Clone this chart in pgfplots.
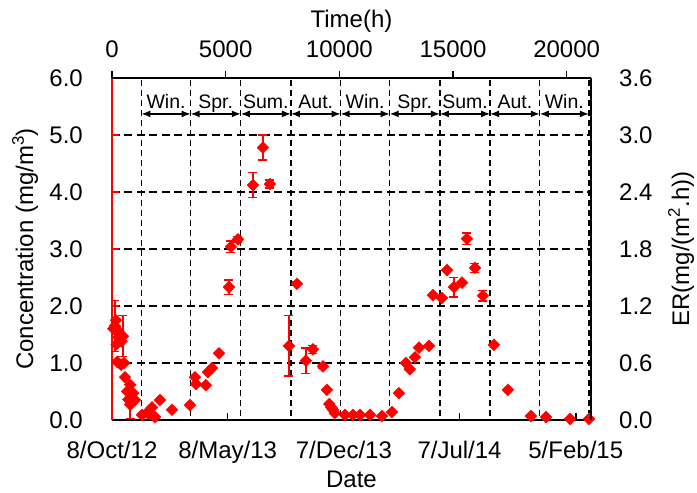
\documentclass[border=0pt]{standalone}
\usepackage{fontspec}
\setmainfont{Liberation Sans}
\usepackage{pgfplots}
\usepackage{pgfplotstable}
\pgfplotsset{compat=1.18}
\usetikzlibrary{arrows.meta}

\pgfplotstableread{
x y e
60 1.60 0
130 1.65 0.45
175 1.75 0
230 1.58 0
290 1.45 0
200 1.33 0
480 1.47 0.36
420 1.38 0
230 1.02 0
400 0.97 0
530 1.00 0
572 0.75 0
660 0.50 0
720 0.36 0
800 0.62 0
800 0.27 0.24
880 0.38 0
930 0.47 0
1010 0.35 0
1320 0.09 0
1540 0.13 0
1670 0.10 0
1760 0.22 0
1890 0.05 0
2110 0.35 0
2640 0.18 0
3430 0.26 0
3650 0.75 0
3700 0.63 0
4130 0.61 0
4220 0.84 0
4400 0.91 0
4710 1.17 0
5146 2.33 0.13
5234 3.04 0.10
5542 3.17 0.05
6201 4.12 0.22
6641 4.78 0.22
6949 4.14 0.07
7785 1.30 0.53
8137 2.39 0.03
8532 1.04 0.22
8840 1.24 0.07
9280 0.94 0.03
9456 0.53 0
9560 0.28 0
9650 0.22 0
9720 0.18 0
9800 0.12 0
10248 0.09 0
10600 0.09 0
10907 0.09 0
11347 0.09 0
11875 0.07 0
12315 0.14 0
12622 0.47 0
12930 1.00 0
13106 0.89 0
13326 1.10 0
13502 1.27 0
13942 1.30 0
14118 2.19 0
14514 2.14 0
14734 2.63 0
15042 2.33 0.17
15394 2.41 0
15614 3.18 0.10
15966 2.67 0.08
16318 2.18 0.09
16801 1.32 0
17417 0.53 0
18428 0.07 0
19088 0.05 0
20144 0.02 0
20980 0.02 0
}\conc

\begin{document}
\fontsize{24}{28}\selectfont
\begin{tikzpicture}
\useasboundingbox (-112pt,-73pt) rectangle (585pt,420pt);
\begin{axis}[
  scale only axis, width=479pt, height=342pt,
  xmin=0, xmax=21070, ymin=0, ymax=6,
  axis x line*=bottom, axis y line*=left,
  axis line style={-, line width=2pt},
  y axis line style={red},
  xtick={0,5088,10200,15288,20400},
  xticklabels={8/Oct/12,8/May/13,7/Dec/13,7/Jul/14,5/Feb/15},
  scaled x ticks=false, scaled y ticks=false,
  ytick={0,1,2,3,4,5,6},
  tick align=inside,
  major tick length=7pt,
  tick style={line width=1.5pt, black},
  y tick style={red},
  ymajorgrids,
  grid style={dash pattern=on 8pt off 4.5pt, line width=1.5pt, black},
  /pgf/number format/assume math mode=true,
  tick label style={font=\fontsize{24}{28}\selectfont},
  xticklabel style={anchor=base, inner sep=0pt, yshift=-38pt},
  yticklabel style={anchor=east, inner sep=0pt, xshift=-29pt, /pgf/number format/fixed, /pgf/number format/fixed zerofill, /pgf/number format/precision=1},
  every axis x label/.style={at={(axis description cs:0.5,-0.1988)}, anchor=base, font=\fontsize{24}{28}\selectfont},
  every axis y label/.style={at={(axis description cs:-0.1649,0.5)}, rotate=90, anchor=base, font=\fontsize{24}{28}\selectfont},
  xlabel={Date},
  ylabel={Concentration (mg/m\textsuperscript{3})},
]
\draw[dash pattern=on 6pt off 4pt, line width=1.3pt] (axis cs:1296,0.07) -- (axis cs:1296,6);
\draw[dash pattern=on 6pt off 4pt, line width=1.3pt] (axis cs:3456,0.07) -- (axis cs:3456,6);
\draw[dash pattern=on 6pt off 4pt, line width=1.3pt] (axis cs:5664,0.07) -- (axis cs:5664,6);
\draw[dash pattern=on 6pt off 4pt, line width=1.3pt] (axis cs:7872,0.07) -- (axis cs:7872,6);
\draw[dash pattern=on 6pt off 4pt, line width=1.3pt] (axis cs:10056,0.07) -- (axis cs:10056,6);
\draw[dash pattern=on 6pt off 4pt, line width=1.3pt] (axis cs:12216,0.07) -- (axis cs:12216,6);
\draw[dash pattern=on 6pt off 4pt, line width=1.3pt] (axis cs:14424,0.07) -- (axis cs:14424,6);
\draw[dash pattern=on 6pt off 4pt, line width=1.3pt] (axis cs:16632,0.07) -- (axis cs:16632,6);
\draw[dash pattern=on 6pt off 4pt, line width=1.3pt] (axis cs:18816,0.07) -- (axis cs:18816,6);
\draw[dash pattern=on 6pt off 4pt, line width=1.3pt] (axis cs:20976,0.07) -- (axis cs:20976,6);
\tikzset{sarr/.style={{Latex[length=9pt,width=7pt]}-{Latex[length=9pt,width=7pt]}, line width=1.3pt},
         slab/.style={anchor=base, inner sep=0pt, font=\fontsize{19.5}{22}\selectfont}}
\draw[sarr] (axis cs:1296,5.37) -- (axis cs:3456,5.37);
\draw[sarr] (axis cs:3456,5.37) -- (axis cs:5664,5.37);
\draw[sarr] (axis cs:5664,5.37) -- (axis cs:7872,5.37);
\draw[sarr] (axis cs:7872,5.37) -- (axis cs:10056,5.37);
\draw[sarr] (axis cs:10056,5.37) -- (axis cs:12216,5.37);
\draw[sarr] (axis cs:12216,5.37) -- (axis cs:14424,5.37);
\draw[sarr] (axis cs:14424,5.37) -- (axis cs:16632,5.37);
\draw[sarr] (axis cs:16632,5.37) -- (axis cs:18816,5.37);
\draw[sarr] (axis cs:18816,5.37) -- (axis cs:20976,5.37);
\node[slab] at (axis cs:2376,5.463) {Win.};
\node[slab] at (axis cs:4560,5.463) {Spr.};
\node[slab] at (axis cs:6768,5.463) {Sum.};
\node[slab] at (axis cs:8964,5.463) {Aut.};
\node[slab] at (axis cs:11136,5.463) {Win.};
\node[slab] at (axis cs:13320,5.463) {Spr.};
\node[slab] at (axis cs:15528,5.463) {Sum.};
\node[slab] at (axis cs:17724,5.463) {Aut.};
\node[slab] at (axis cs:19896,5.463) {Win.};
\addplot[only marks, red, mark=square*, mark size=4.2pt,
  mark options={rotate=45, draw=red, fill=red},
  error bars/.cd, y dir=both, y explicit,
  error bar style={line width=1.5pt, red},
  error mark options={rotate=90, red, mark size=4.5pt, line width=1.5pt}]
  table[x=x, y=y, y error=e] {\conc};
\end{axis}
\begin{axis}[
  scale only axis, width=479pt, height=342pt,
  xmin=0, xmax=21070, ymin=0, ymax=3.6,
  axis x line*=top, axis y line*=right,
  axis line style={-, line width=2pt},
  xtick={0,5000,10000,15000,20000},
  ytick={0,0.6,1.2,1.8,2.4,3.0,3.6},
  scaled x ticks=false, scaled y ticks=false,
  tick align=outside,
  major tick length=7pt,
  tick style={line width=1.5pt, black},
  y tick style={draw=none},
  /pgf/number format/assume math mode=true,
  tick label style={font=\fontsize{24}{28}\selectfont},
  xticklabel style={anchor=base, inner sep=0pt, yshift=13pt, /pgf/number format/1000 sep={}},
  yticklabel style={anchor=west, inner sep=0pt, xshift=21pt, /pgf/number format/fixed, /pgf/number format/fixed zerofill, /pgf/number format/precision=1},
  every axis x label/.style={at={(axis description cs:0.5,1.149)}, anchor=base, font=\fontsize{24}{28}\selectfont},
  every axis y label/.style={at={(axis description cs:1.2046,0.5)}, rotate=90, anchor=base, font=\fontsize{24}{28}\selectfont},
  xlabel={Time(h)},
  ylabel={ER(mg/(m\textsuperscript{2}.h))},
]
\end{axis}
\end{tikzpicture}
\end{document}
